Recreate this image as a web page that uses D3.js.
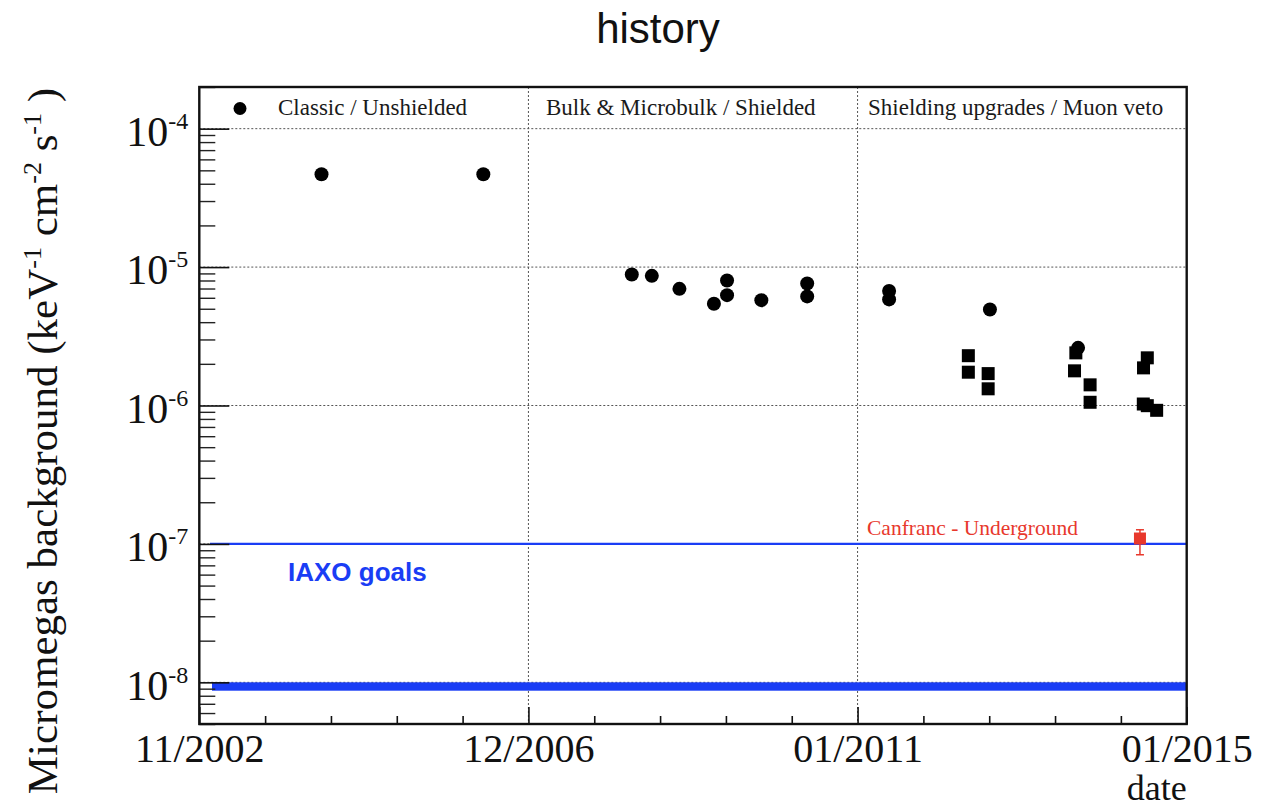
<!DOCTYPE html>
<html>
<head>
<meta charset="utf-8">
<script src="https://cdn.jsdelivr.net/npm/d3@7"></script>
<style>
  html, body { margin: 0; padding: 0; background: #fff; }
  svg { display: block; }
  .serif { font-family: "Liberation Serif", "Times New Roman", serif; }
  .sans { font-family: "Liberation Sans", Arial, Helvetica, sans-serif; }
</style>
</head>
<body>
<script>
// ---------------- data ----------------
const title = "history";
const xDomain = ["2002-11-28", "2015-01-20"];
const xTickLabels = ["11/2002", "12/2006", "01/2011", "01/2015"];
const yDomain = [5e-9, 2e-4];
const yTickValues = [1e-8, 1e-7, 1e-6, 1e-5, 1e-4];
const yTickExponents = ["-8", "-7", "-6", "-5", "-4"];
const periodLabels = ["Classic / Unshielded", "Bulk & Microbulk / Shielded", "Shielding upgrades / Muon veto"];

// circles (Classic / Bulk / Shielding)
const circleDates = [
  "2004-05-30", "2006-05-27",
  "2008-03-24", "2008-06-22", "2008-10-24", "2009-03-28", "2009-05-26", "2009-05-26",
  "2009-10-27", "2010-05-21", "2010-05-21",
  "2011-05-24", "2011-05-24", "2012-08-19", "2013-09-19"
];
const circleValues = [
  4.68e-5, 4.68e-5,
  8.84e-6, 8.64e-6, 6.96e-6, 5.43e-6, 8.0e-6, 6.27e-6,
  5.77e-6, 7.61e-6, 6.14e-6,
  6.73e-6, 5.84e-6, 4.94e-6, 2.61e-6
];
// squares (shielding upgrades / muon veto)
const squareDates = [
  "2012-05-14", "2012-05-14", "2012-08-11", "2012-08-11",
  "2013-09-09", "2013-09-03", "2013-11-12", "2013-11-12",
  "2014-07-27", "2014-07-10", "2014-07-09", "2014-07-27", "2014-09-07"
];
const squareValues = [
  2.29e-6, 1.74e-6, 1.70e-6, 1.32e-6,
  2.40e-6, 1.78e-6, 1.41e-6, 1.055e-6,
  2.21e-6, 1.87e-6, 1.025e-6, 9.97e-7, 9.23e-7
];
// Canfranc underground point
const canfrancLabel = "Canfranc - Underground";
const canfrancDate = ["2014-06-24"];
const canfrancValue = [1.094e-7];
const canfrancLow = [8.35e-8];
const canfrancHigh = [1.265e-7];
// IAXO goals
const goalsLabel = "IAXO goals";
const goalStart = "2003-01-15";
const goalLine = [1e-7];
const goalBand = [8.7e-9, 1e-8];

// ---------------- layout ----------------
const W = 1282, H = 808;
const M = { left: 199.3, right: 1186.7, top: 87, bottom: 724 };
const parse = d3.utcParse("%Y-%m-%d");
const blue = "#1a3df5", red = "#e8382c";

const svg = d3.select("body").append("svg").attr("width", W).attr("height", H);

const x = d3.scaleUtc().domain(xDomain.map(parse)).range([M.left, M.right]);
const y = d3.scaleLog().domain(yDomain).range([M.bottom, M.top]);

const t0 = +parse(xDomain[0]), t1 = +parse(xDomain[1]);
const xMajor = d3.range(4).map(k => new Date(t0 + k * (t1 - t0) / 3));
const xMinor = d3.range(16).filter(k => k % 5 !== 0).map(k => new Date(t0 + k * (t1 - t0) / 15));
const yMinor = [];
for (let e = -9; e <= -4; e++) for (let m = 2; m <= 9; m++) {
  const v = m * Math.pow(10, e);
  if (v >= yDomain[0] && v <= yDomain[1]) yMinor.push(v);
}

// title
svg.append("text").attr("class", "sans")
  .attr("x", 658).attr("y", 43).attr("text-anchor", "middle")
  .attr("font-size", 42).attr("fill", "#111").text(title);

// gridlines
const grid = svg.append("g").attr("stroke", "#555").attr("stroke-width", 1).attr("stroke-dasharray", "2,2");
grid.selectAll(".hg").data(yTickValues).join("line")
  .attr("x1", M.left).attr("x2", M.right)
  .attr("y1", d => y(d)).attr("y2", d => y(d));
grid.selectAll(".vg").data(xMajor.slice(1, 3)).join("line")
  .attr("x1", d => x(d)).attr("x2", d => x(d))
  .attr("y1", M.top).attr("y2", M.bottom);

// IAXO goal lines
svg.append("line")
  .attr("x1", x(parse(goalStart))).attr("x2", M.right)
  .attr("y1", y(goalLine[0])).attr("y2", y(goalLine[0]))
  .attr("stroke", blue).attr("stroke-width", 2.4);
svg.append("rect")
  .attr("x", x(parse(goalStart)) + 2).attr("width", M.right - x(parse(goalStart)) - 2)
  .attr("y", y(goalBand[1])).attr("height", y(goalBand[0]) - y(goalBand[1]))
  .attr("fill", blue);
svg.append("text").attr("class", "sans")
  .attr("x", 288).attr("y", 580.5).attr("font-size", 26).attr("font-weight", "bold")
  .attr("fill", blue).text(goalsLabel);

// axes
const yAxisMajor = d3.axisLeft(y).tickValues(yTickValues).tickSize(-30).tickPadding(11)
  .tickFormat((d, i) => yTickExponents[i]);
const gy = svg.append("g").attr("transform", `translate(${M.left},0)`).call(yAxisMajor);
gy.select(".domain").remove();
gy.selectAll(".tick line").attr("stroke", "#111").attr("stroke-width", 1.6);
gy.selectAll(".tick text").each(function (d, i) {
  const t = d3.select(this);
  t.text(null).attr("class", "serif").attr("font-size", 42).attr("fill", "#111")
    .attr("dy", "0.4em").attr("font-family", null);
  t.append("tspan").text("10");
  t.append("tspan").attr("font-size", 24).attr("dy", -17).text(yTickExponents[i]);
});
const gyMinor = svg.append("g").attr("transform", `translate(${M.left},0)`)
  .call(d3.axisLeft(y).tickValues(yMinor).tickSize(-16).tickFormat(""));
gyMinor.select(".domain").remove();
gyMinor.selectAll(".tick line").attr("stroke", "#222").attr("stroke-width", 1.4);

const gx = svg.append("g").attr("transform", `translate(0,${M.bottom})`)
  .call(d3.axisBottom(x).tickValues(xMajor).tickSize(-17).tickFormat((d, i) => xTickLabels[i]));
gx.select(".domain").remove();
gx.selectAll(".tick line").attr("stroke", "#111").attr("stroke-width", 1.6);
gx.selectAll(".tick text").attr("class", "serif").attr("font-family", null)
  .attr("font-size", 40).attr("fill", "#111").attr("y", 38).attr("dy", 0);
const gxMinor = svg.append("g").attr("transform", `translate(0,${M.bottom})`)
  .call(d3.axisBottom(x).tickValues(xMinor).tickSize(-8).tickFormat(""));
gxMinor.select(".domain").remove();
gxMinor.selectAll(".tick line").attr("stroke", "#111").attr("stroke-width", 1.6);

// frame
svg.append("rect").attr("x", M.left).attr("y", M.top)
  .attr("width", M.right - M.left).attr("height", M.bottom - M.top)
  .attr("fill", "none").attr("stroke", "#111").attr("stroke-width", 2.4);

// axis titles
svg.append("text").attr("class", "serif")
  .attr("x", M.right).attr("y", 800).attr("text-anchor", "end")
  .attr("font-size", 36).attr("fill", "#111").text("date");

const yt = svg.append("text").attr("class", "serif")
  .attr("transform", "translate(57,441) rotate(-90)")
  .attr("text-anchor", "middle").attr("font-size", 43).attr("fill", "#111");
yt.append("tspan").text("Micromegas background (keV");
yt.append("tspan").attr("font-size", 26).attr("dy", -16).text("-1");
yt.append("tspan").attr("dy", 16).text(" cm");
yt.append("tspan").attr("font-size", 26).attr("dy", -16).text("-2");
yt.append("tspan").attr("dy", 16).text(" s");
yt.append("tspan").attr("font-size", 26).attr("dy", -16).text("-1");
yt.append("tspan").attr("dy", 16).text(" )");

// period header
const headerX = [278, 546, 868];
svg.selectAll(".hdr").data(periodLabels).join("text").attr("class", "serif")
  .attr("x", (d, i) => headerX[i]).attr("y", 115)
  .attr("font-size", 23).attr("fill", "#1a1a1a").text(d => d);
svg.append("circle").attr("cx", 240).attr("cy", 108.5).attr("r", 6.5).attr("fill", "#000");

// data: circles
svg.append("g").selectAll("circle").data(circleDates).join("circle")
  .attr("cx", d => x(parse(d))).attr("cy", (d, i) => y(circleValues[i]))
  .attr("r", 7).attr("fill", "#000");
// data: squares
const sq = 13;
svg.append("g").selectAll("rect").data(squareDates).join("rect")
  .attr("x", d => x(parse(d)) - sq / 2).attr("y", (d, i) => y(squareValues[i]) - sq / 2)
  .attr("width", sq).attr("height", sq).attr("fill", "#000");

// Canfranc point
const cg = svg.append("g");
canfrancDate.forEach((d, i) => {
  const cx = x(parse(d));
  cg.append("line").attr("x1", cx).attr("x2", cx)
    .attr("y1", y(canfrancHigh[i])).attr("y2", y(canfrancLow[i]))
    .attr("stroke", red).attr("stroke-width", 1.5);
  [canfrancHigh[i], canfrancLow[i]].forEach(v => {
    cg.append("line").attr("x1", cx - 4).attr("x2", cx + 4)
      .attr("y1", y(v)).attr("y2", y(v)).attr("stroke", red).attr("stroke-width", 1.5);
  });
  cg.append("rect").attr("x", cx - 6).attr("y", y(canfrancValue[i]) - 6)
    .attr("width", 12).attr("height", 12).attr("fill", red);
});
svg.append("text").attr("class", "serif")
  .attr("x", 867).attr("y", 535).attr("font-size", 21.5).attr("fill", red).text(canfrancLabel);
</script>
</body>
</html>
